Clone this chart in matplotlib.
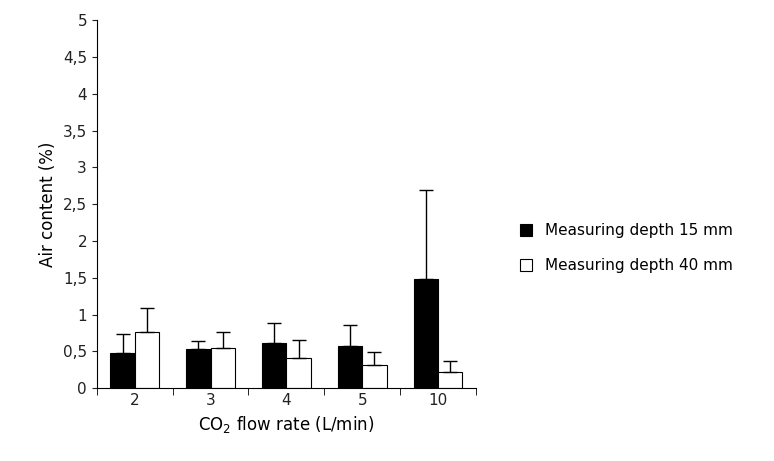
import numpy as np
import matplotlib.pyplot as plt

labels = ['2', '3', '4', '5', '10']
depth15 = [0.48, 0.53, 0.62, 0.57, 1.48]
depth15_err = [0.25, 0.11, 0.26, 0.29, 1.22]
depth40 = [0.76, 0.54, 0.41, 0.31, 0.22]
depth40_err = [0.33, 0.22, 0.24, 0.18, 0.15]

fig = plt.figure(figsize=(7.74, 4.61), dpi=100)
ax = fig.add_axes([0.125, 0.158, 0.49, 0.798])

x = np.arange(len(labels))
w = 0.32
ax.bar(x - w / 2, depth15, w, color='black', edgecolor='black', linewidth=0.8,
       yerr=[np.zeros(5), depth15_err], error_kw=dict(ecolor='black', capsize=5, elinewidth=1),
       label='Measuring depth 15 mm')
ax.bar(x + w / 2, depth40, w, color='white', edgecolor='black', linewidth=0.8,
       yerr=[np.zeros(5), depth40_err], error_kw=dict(ecolor='black', capsize=5, elinewidth=1),
       label='Measuring depth 40 mm')

ax.set_xlim(-0.5, len(labels) - 0.5)
ax.set_ylim(0, 5)
ax.set_xticks(x)
ax.set_xticklabels(labels)
ax.set_xticks(np.arange(-0.5, len(labels)), minor=True)
ax.tick_params(axis='x', which='major', length=0)
ax.tick_params(axis='x', which='minor', length=5)
ax.set_yticks(np.arange(0, 5.01, 0.5))
ax.set_yticklabels([f'{v:g}'.replace('.', ',') for v in np.arange(0, 5.01, 0.5)])
ax.spines['top'].set_visible(False)
ax.spines['right'].set_visible(False)
ax.tick_params(labelsize=11, colors='#222222')
ax.set_xlabel('CO$_2$ flow rate (L/min)', fontsize=12)
ax.set_ylabel('Air content (%)', fontsize=12)

ax.legend(loc='center left', bbox_to_anchor=(1.08, 0.38), frameon=False, fontsize=11,
          handlelength=0.8, handleheight=0.8, labelspacing=1.3)

fig.savefig('out.png')
